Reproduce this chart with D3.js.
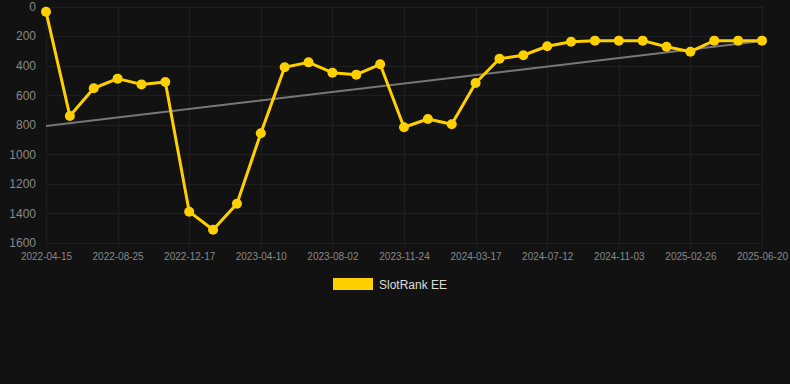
<!DOCTYPE html>
<html>
<head>
<meta charset="utf-8">
<script src="https://cdn.jsdelivr.net/npm/d3@7"></script>
<style>
  html, body { margin: 0; padding: 0; background: #121212; }
  svg { display: block; }
</style>
</head>
<body>
<svg id="chart" width="790" height="384"></svg>
<script>
// dates (every 3rd one is shown on the axis)
const dates = [
  '2022-04-15', '2022-05-29', '2022-07-12', '2022-08-25', '2022-10-02', '2022-11-09',
  '2022-12-17', '2023-01-24', '2023-03-03', '2023-04-10', '2023-05-18', '2023-06-25',
  '2023-08-02', '2023-09-09', '2023-10-17', '2023-11-24', '2024-01-01', '2024-02-08',
  '2024-03-17', '2024-04-25', '2024-06-03', '2024-07-12', '2024-08-19', '2024-09-26',
  '2024-11-03', '2024-12-11', '2025-01-18', '2025-02-26', '2025-04-05', '2025-05-13',
  '2025-06-20'
];
const rank = [
  35, 741, 553, 488, 527, 511, 1388, 1510, 1334, 858, 411, 378,
  448, 461, 391, 817, 761, 797, 518, 353, 330, 269, 238, 231,
  231, 231, 272, 306, 231, 231, 231
];
const trend = [808, 234]; // start / end of the trend line
const yTicks = [0, 200, 400, 600, 800, 1000, 1200, 1400, 1600];
const seriesName = 'SlotRank EE';

const svg = d3.select('#chart');
const plot = { left: 46, right: 762, top: 6.5, bottom: 243 };

const x = d3.scalePoint().domain(dates).range([plot.left, plot.right]);
const y = d3.scaleLinear().domain([0, 1600]).range([plot.top, plot.bottom]);
const shown = dates.filter((d, i) => i % 3 === 0);

// grid
svg.append('g')
  .selectAll('line')
  .data(yTicks)
  .join('line')
    .attr('x1', plot.left).attr('x2', plot.right)
    .attr('y1', d => Math.round(y(d)) + 0.5).attr('y2', d => Math.round(y(d)) + 0.5)
    .attr('stroke', '#1f1f1f').attr('stroke-width', 1);
svg.append('g')
  .selectAll('line')
  .data(shown)
  .join('line')
    .attr('x1', d => Math.round(x(d)) + 0.5).attr('x2', d => Math.round(x(d)) + 0.5)
    .attr('y1', plot.top).attr('y2', plot.bottom + 6)
    .attr('stroke', '#1f1f1f').attr('stroke-width', 1);

// axes
const yAxis = svg.append('g')
  .attr('transform', `translate(${plot.left - 10},0)`)
  .call(d3.axisLeft(y).tickValues(yTicks).tickFormat(d3.format('d')).tickSize(0).tickPadding(0));
yAxis.select('.domain').remove();
yAxis.selectAll('text')
  .attr('fill', '#888')
  .attr('font-family', 'Arial, "Liberation Sans", sans-serif')
  .attr('font-size', '12px');

const xAxis = svg.append('g')
  .attr('transform', `translate(0,${plot.bottom + 10})`)
  .call(d3.axisBottom(x).tickValues(shown).tickSize(0).tickPadding(0));
xAxis.select('.domain').remove();
xAxis.selectAll('text')
  .attr('fill', '#888')
  .attr('font-family', 'Arial, "Liberation Sans", sans-serif')
  .attr('font-size', '10px')
  .attr('dy', '0.71em');

// trend line
svg.append('line')
  .attr('x1', x(dates[0])).attr('y1', y(trend[0]))
  .attr('x2', x(dates[dates.length - 1])).attr('y2', y(trend[1]))
  .attr('stroke', '#777').attr('stroke-width', 2);

// series
const line = d3.line().x((d, i) => x(dates[i])).y(d => y(d));
svg.append('path')
  .datum(rank)
  .attr('fill', 'none')
  .attr('stroke', '#ffd000')
  .attr('stroke-width', 3)
  .attr('stroke-linejoin', 'round')
  .attr('d', line);
svg.append('g')
  .selectAll('circle')
  .data(rank)
  .join('circle')
    .attr('cx', (d, i) => x(dates[i]))
    .attr('cy', d => y(d))
    .attr('r', 5)
    .attr('fill', '#ffd000');

// legend
const lg = svg.append('g').attr('transform', 'translate(333,278)');
lg.append('rect').attr('width', 40).attr('height', 12).attr('fill', '#ffd000');
lg.append('text')
  .attr('x', 46).attr('y', 10.5)
  .attr('fill', '#ddd')
  .attr('font-family', 'Arial, "Liberation Sans", sans-serif')
  .attr('font-size', '12px')
  .text(seriesName);
</script>
</body>
</html>
